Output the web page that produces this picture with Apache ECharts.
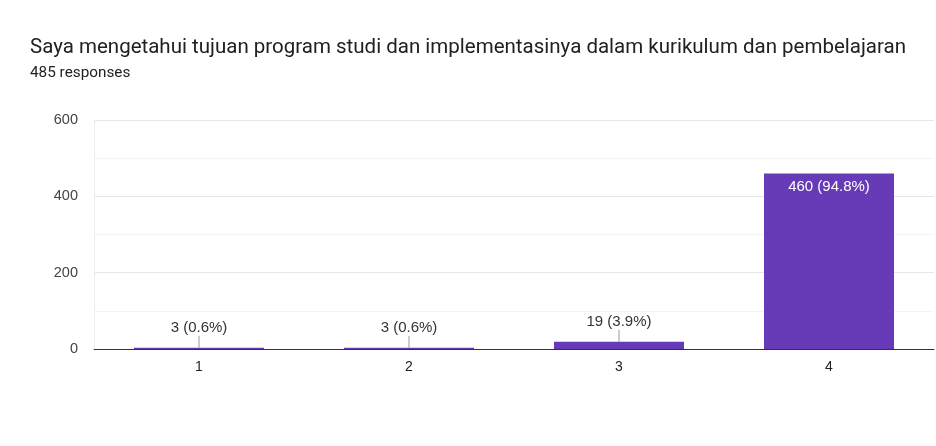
<!DOCTYPE html>
<html>
<head>
    <meta charset="UTF-8">
    <title>Saya mengetahui tujuan program studi</title>
    <script src="https://cdn.jsdelivr.net/npm/echarts@6/dist/echarts.min.js"></script>
    <style>
        html, body { margin: 0; padding: 0; background: #fff; }
    </style>
</head>
<body>
<div id="chart" style="width:936px; height:446px;"></div>
<script>
    // data
    var categories = ['1', '2', '3', '4'];
    var counts = [3, 3, 19, 460];
    var labels = ['3 (0.6%)', '3 (0.6%)', '19 (3.9%)', '460 (94.8%)'];
    var yTicks = [0, 200, 400, 600];

    var purple = '#673ab7';
    var font = 'Liberation Sans, Arial, sans-serif';
    var chart = echarts.init(document.getElementById('chart'), null, {renderer: 'canvas'});

    // bars that are too short get the label above with a small leader line
    var barData = counts.map(function (v, i) {
        var inside = v > 100;
        return {
            value: v,
            label: {
                show: true,
                formatter: labels[i],
                position: inside ? 'insideTop' : 'top',
                distance: inside ? 6 : 12,
                color: inside ? '#fff' : '#333',
                fontFamily: font,
                fontSize: 15
            }
        };
    });

    var option = {
        animation: false,
        backgroundColor: '#fff',
        title: [{
            text: 'Saya mengetahui tujuan program studi dan implementasinya dalam kurikulum dan pembelajaran',
            left: 25,
            top: 32,
            textStyle: {fontFamily: 'Roboto', fontSize: 20.5, fontWeight: 'normal', color: '#202124'}
        }, {
            text: '485 responses',
            left: 25,
            top: 61,
            textStyle: {fontFamily: 'Roboto', fontSize: 15.3, fontWeight: 'normal', color: '#202124'}
        }],
        grid: {left: 94, right: 2, top: 120, bottom: 97},
        xAxis: {
            type: 'category',
            data: categories,
            axisLine: {lineStyle: {color: '#333', width: 1}},
            axisTick: {show: false},
            axisLabel: {
                margin: 11,
                color: '#222',
                fontFamily: font,
                fontSize: 14
            }
        },
        yAxis: {
            type: 'value',
            min: yTicks[0],
            max: yTicks[yTicks.length - 1],
            interval: 200,
            axisLine: {show: true, lineStyle: {color: '#ececec'}},
            axisTick: {show: false},
            axisLabel: {
                margin: 16,
                color: '#444',
                fontFamily: font,
                fontSize: 14.5
            },
            splitLine: {lineStyle: {color: '#e6e6e6'}},
            minorTick: {show: false, splitNumber: 2},
            minorSplitLine: {show: true, lineStyle: {color: '#f4f4f4'}}
        },
        series: [{
            type: 'bar',
            data: barData,
            barWidth: 130,
            itemStyle: {color: purple},
            z: 2
        }, {
            // leader lines for labels sitting above short bars
            type: 'custom',
            silent: true,
            z: 3,
            renderItem: function (params, api) {
                var v = api.value(1);
                if (v > 100) {
                    return;
                }
                var p = api.coord([api.value(0), v]);
                return {
                    type: 'line',
                    shape: {x1: p[0], y1: p[1], x2: p[0], y2: p[1] - 12},
                    style: {stroke: '#999', lineWidth: 1}
                };
            },
            data: counts.map(function (v, i) { return [i, v]; })
        }]
    };
    chart.setOption(option);
</script>
</body>
</html>
